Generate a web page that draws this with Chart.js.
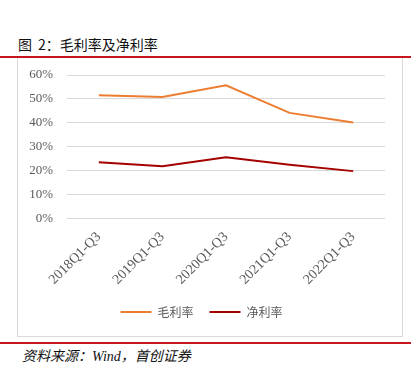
<!DOCTYPE html>
<html>
<head>
<meta charset="utf-8">
<script src="https://cdn.jsdelivr.net/npm/chart.js@4"></script>
<style>
  body { margin: 0; background: #fff; width: 417px; height: 370px; position: relative; overflow: hidden; }
  #title { position: absolute; left: 18px; top: 34px; font: 14px "Noto Sans CJK SC", sans-serif; color: #111; }
  #title span { margin-left: 6px; }
  .rule { position: absolute; left: 0; width: 411px; height: 2px; background: #c8161d; }
  #box { position: absolute; left: 17px; top: 58px; width: 384px; height: 278px; border: 1px solid #d9d9d9; border-top: none; }
  #src { position: absolute; left: 22px; top: 345px; font: italic 14px "Liberation Serif", "Noto Sans CJK SC", serif; color: #111; }
</style>
</head>
<body>
<div id="title">图<span>2：毛利率及净利率</span></div>
<div class="rule" style="top:56px"></div>
<div id="box"><canvas id="myChart" width="384" height="278"></canvas></div>
<div class="rule" style="top:342px"></div>
<div id="src">资料来源：Wind，首创证券</div>
<script>
var labels = ["2018Q1-Q3", "2019Q1-Q3", "2020Q1-Q3", "2021Q1-Q3", "2022Q1-Q3"];
var grossMargin = [51.6, 50.8, 55.7, 44.2, 40.2];
var netMargin = [23.6, 21.9, 25.7, 22.6, 19.9];
var yTicks = [0, 10, 20, 30, 40, 50, 60];

const data = {
  labels: labels,
  datasets: [
    {
      label: "毛利率",
      data: grossMargin,
      borderColor: "#ed7d31",
      backgroundColor: "#ed7d31",
      borderWidth: 2,
      pointRadius: 0,
      tension: 0,
    },
    {
      label: "净利率",
      data: netMargin,
      borderColor: "#a50000",
      backgroundColor: "#a50000",
      borderWidth: 2,
      pointRadius: 0,
      tension: 0,
    },
  ],
};

const config = {
  type: "line",
  data: data,
  options: {
    responsive: false,
    animation: false,
    layout: { padding: { left: 0, right: 17, top: 17, bottom: 8 } },
    scales: {
      x: {
        offset: true,
        grid: { display: false },
        border: { display: false },
        ticks: {
          color: "#595959",
          font: { family: "Liberation Serif", size: 14 },
          minRotation: 45,
          maxRotation: 45,
          padding: 2,
        },
      },
      y: {
        min: 0,
        max: 60,
        afterFit: function (scale) {
          scale.width = 49;
          scale.paddingTop = 8;
          scale.paddingBottom = 8;
        },
        afterBuildTicks: function (scale) {
          scale.ticks = yTicks.map(function (v) { return { value: v }; });
        },
        grid: { color: "#d9d9d9", lineWidth: 1, drawTicks: false },
        border: { display: false },
        ticks: {
          color: "#595959",
          font: { family: "Liberation Serif", size: 13 },
          padding: 14,
          callback: function (v) { return v + "%"; },
        },
      },
    },
    plugins: {
      legend: {
        display: true,
        position: "bottom",
        labels: {
          boxWidth: 31,
          boxHeight: 0,
          padding: 16,
          color: "#595959",
          font: { family: "Noto Sans CJK SC", size: 12 },
        },
      },
      tooltip: { enabled: false },
    },
  },
};

const marginChart = new Chart(document.getElementById("myChart"), config);
</script>
</body>
</html>
